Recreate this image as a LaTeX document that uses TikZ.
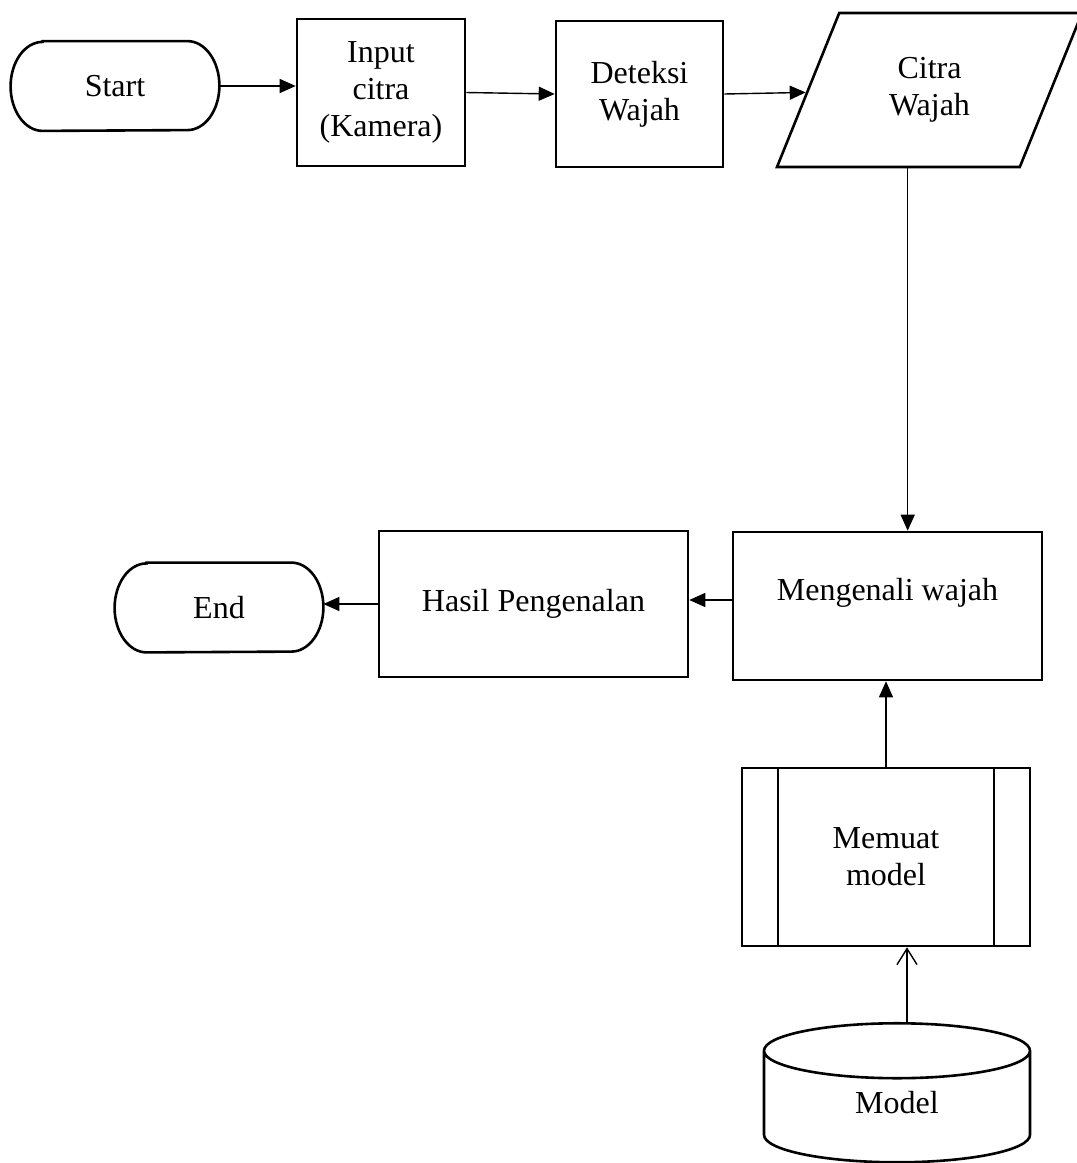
\documentclass[tikz,border=0pt]{standalone}
\usepackage{fontspec}
\setmainfont{Liberation Serif}
\usetikzlibrary{positioning,arrows.meta,shapes.geometric,calc}
\tikzset{
  term/.style   ={align=center,minimum width=104pt,minimum height=44.5pt,inner sep=2pt,
                  append after command={\pgfextra{\let\tn\tikzlastnode
                  \draw[line width=1.3pt]
                    ([xshift=16pt]\tn.north west) -- ([xshift=-16pt]\tn.north east)
                    arc[start angle=90,end angle=-90,x radius=16pt,y radius=22.25pt]
                    -- ([xshift=16pt]\tn.south west)
                    arc[start angle=270,end angle=90,x radius=16pt,y radius=22.25pt]
                    -- cycle;}}},
  proc/.style   ={draw,line width=1.3pt,align=center,inner sep=2pt},
  io/.style     ={draw,line width=1.3pt,align=center,trapezium,
                  trapezium left angle=68,trapezium right angle=112,
                  trapezium stretches body,inner xsep=2pt,inner ysep=22.3pt},
  sub/.style    ={proc,path picture={
                  \draw[line width=1.3pt]
                    ([xshift=18pt]path picture bounding box.north west) --
                    ([xshift=18pt]path picture bounding box.south west)
                    ([xshift=-18pt]path picture bounding box.north east) --
                    ([xshift=-18pt]path picture bounding box.south east);}},
  db/.style     ={draw,line width=1.3pt,cylinder,shape border rotate=90,
                  aspect=0.6,align=center,inner sep=2pt},
  ed/.style     ={-{Triangle[length=8pt,width=7pt]},line width=0.7pt},
  edopen/.style ={-{Straight Barb[length=8pt,width=10pt]},line width=0.7pt},
}

\begin{document}
\begin{tikzpicture}[x=0.5pt,y=-0.5pt,font=\fontsize{16}{18.4}\selectfont]

\useasboundingbox (0,0) rectangle (1077,1163);

\node[term] (start) at (115,86) {Start};
\node[proc,minimum width=84pt,minimum height=73.5pt] (input) at (381,92.5)
 {Input\\citra\\(Kamera)};
\node[proc,minimum width=83.5pt,minimum height=73pt] (deteksi) at (639.5,94)
 {Deteksi\\Wajah};
\node[io,minimum width=152.5pt] (citra) at (929.5,90)
 {Citra\\Wajah};

\node[proc,minimum width=154.5pt,minimum height=74pt,text depth=17pt] (kenali) at (887.5,606)
 {Mengenali wajah};
\node[proc,minimum width=154.5pt,minimum height=73pt] (hasil) at (533.5,604)
 {Hasil Pengenalan};
\node[term] (end) at (219,607.5) {End};

\node[sub,minimum width=144pt,minimum height=89pt] (muat) at (886,857)
 {Memuat\\model};
\node[db,minimum width=133pt,minimum height=69.5pt,text depth=8pt] (model) at (897,1110.5)
 {Model};

\coordinate (cw) at ($(citra.bottom left corner)!0.54!(citra.bottom right corner)$);

\draw[ed] (start.east) -- (start.east -| input.west);
\draw[ed] (input.east) -- (deteksi.west);
\draw[ed] (deteksi.east) -- (citra);
\draw[ed] (cw) -- (cw |- kenali.north);
\draw[ed] ([yshift=3pt]kenali.west) -- ([yshift=3pt]kenali.west -| hasil.east);
\draw[ed] (hasil.west) -- (hasil.west -| end.east);
\draw[ed] (muat.north) -- (muat.north |- kenali.south);
\draw[edopen] ([xshift=5pt]model.north) -- ([xshift=5pt]model.north |- muat.south);

\end{tikzpicture}
\end{document}
